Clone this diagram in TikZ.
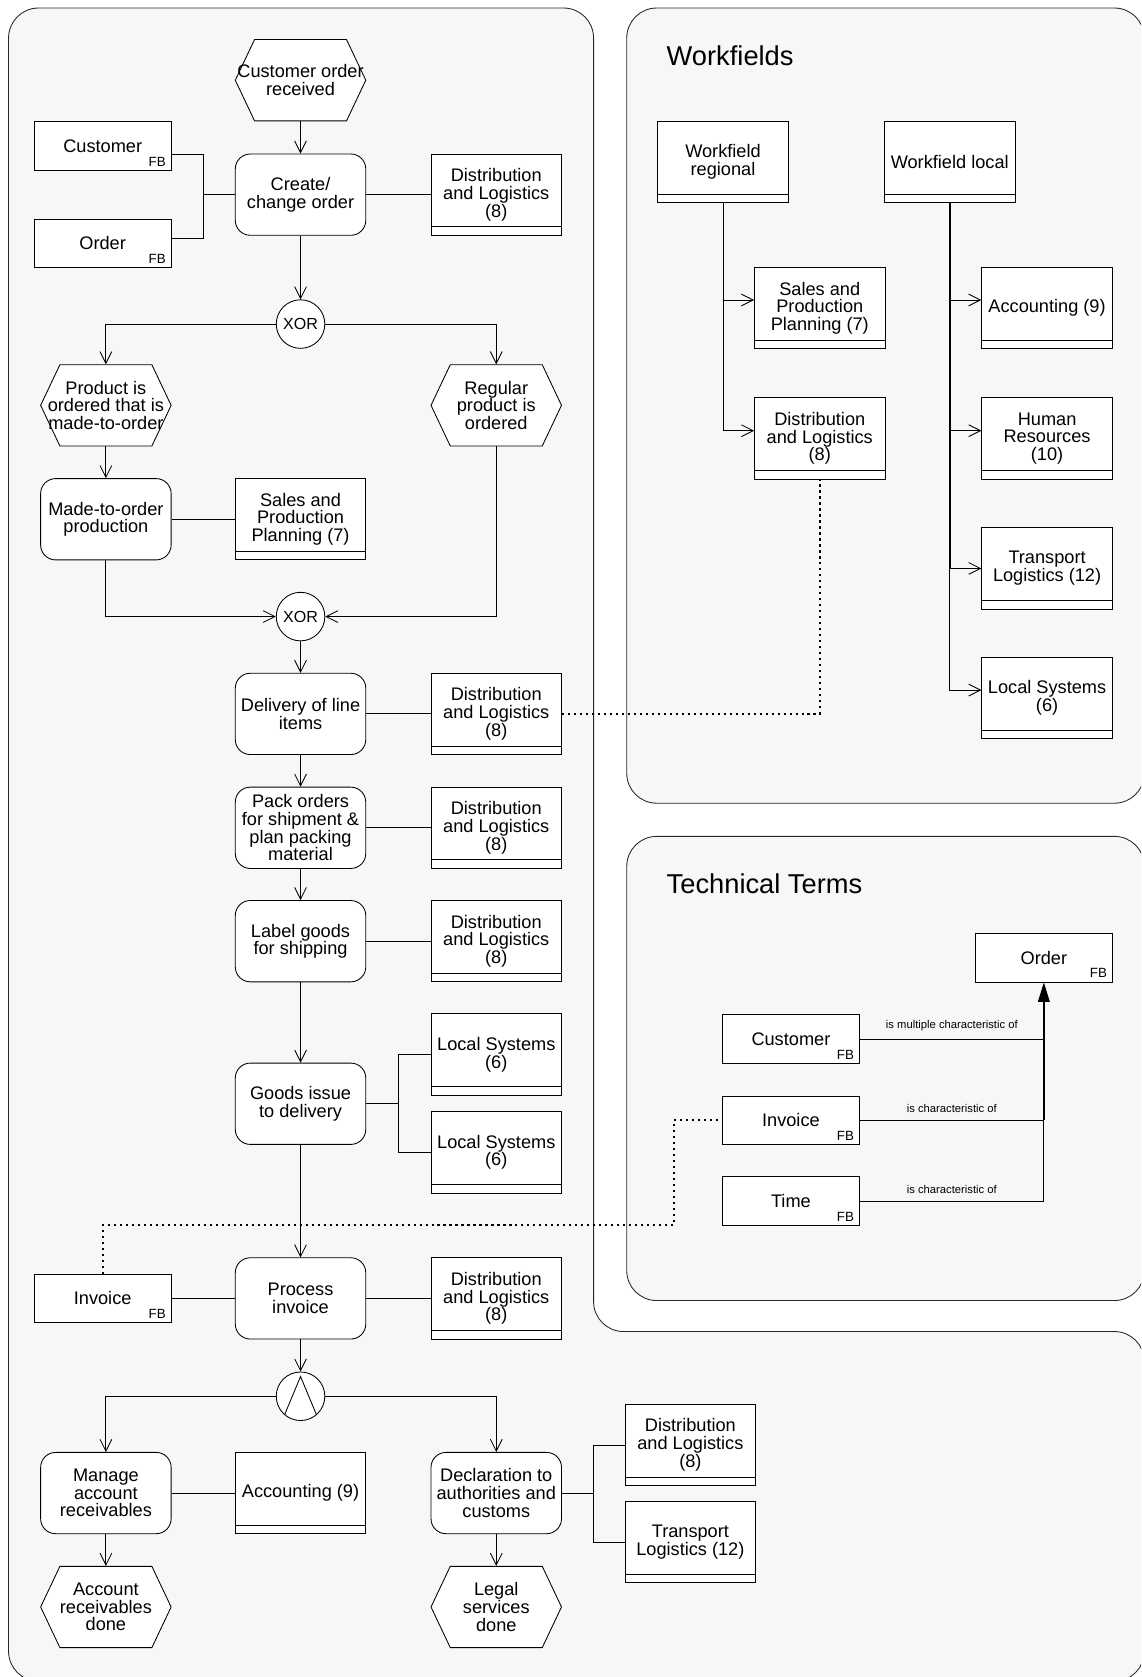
\documentclass[tikz,border=0pt]{standalone}
\usepackage{fontspec}
\setmainfont{Liberation Sans}
\usetikzlibrary{arrows.meta,calc}
\definecolor{panelgray}{RGB}{247,247,247}
\newcommand\mainfs{\fontsize{17pt}{16.5pt}\selectfont}
\newcommand\titlefs{\fontsize{25.5pt}{28pt}\selectfont}
\newcommand\gatefs{\fontsize{15pt}{16pt}\selectfont}
\newcommand\fbfs{\fontsize{12.5pt}{13pt}\selectfont}
\newcommand\relfs{\fontsize{10.5pt}{12pt}\selectfont}
\newcommand\EPCevent[3]{%
  \draw[fill=white] ($(#2)+(-61,0)$) -- ($(#2)+(-43,-38)$) -- ($(#2)+(43,-38)$) --
    ($(#2)+(61,0)$) -- ($(#2)+(43,38)$) -- ($(#2)+(-43,38)$) -- cycle;
  \node[evt] (#1) at (#2) {#3};}
\begin{document}
\begin{tikzpicture}[x=1pt,y=-1pt,line width=0.8pt,
  every node/.style={font=\mainfs,align=center},
  evt/.style={minimum width=122pt,minimum height=76pt,inner sep=0pt},
  func/.style={draw,fill=white,rounded corners=14pt,minimum width=122pt,minimum height=76pt,inner sep=1pt},
  org/.style={draw,fill=white,minimum width=122pt,minimum height=76pt,inner sep=1pt,
    path picture={\draw ([yshift=8pt]path picture bounding box.south west) -- ([yshift=8pt]path picture bounding box.south east);}},
  fbl/.style={anchor=south east,inner sep=0pt,xshift=-5pt,yshift=4pt,font=\fbfs},
  fb/.style={draw,fill=white,minimum width=128pt,minimum height=45.5pt,inner sep=1pt,label={[fbl]south east:FB}},
  gate/.style={circle,draw,fill=white,minimum size=45.4pt,inner sep=0pt,font=\gatefs},
  title/.style={font=\titlefs,inner sep=0pt,anchor=west},
  rel/.style={font=\relfs,inner sep=0pt,above=7pt},
  arr/.style={-{Straight Barb[length=11pt,width=11pt]}},
  dotline/.style={line width=2.1pt,dash pattern=on 2pt off 3.6pt},
  panel/.style={draw=black!85,fill=panelgray,line width=0.8pt,rounded corners=28pt}]
\useasboundingbox (0,0) rectangle (1067,1568);
\clip (0,0) rectangle (1067,1568);
\fill[white] (0,0) rectangle (1067,1568);
% panels
\draw[panel] (8,7.5) -- (555,7.5) -- (555,1245) -- (1070,1245) -- (1070,1572) -- (8,1572) -- cycle;
\draw[panel] (586,7.5) rectangle (1070,751);
\draw[panel] (586,782) rectangle (1070,1216);
% ---------- process ----------
\EPCevent{e1}{281,75}{Customer order\\received}
\node[fb] (cust) at (96,136.5) {Customer};
\node[fb] (ord) at (96,227.5) {Order};
\node[func] (f1) at (281,182) {Create/\\change order};
\node[org] (o1) at (464,182) {Distribution\\and Logistics\\(8)};
\node[gate] (x1) at (281,303) {XOR};
\EPCevent{e2}{99,379}{Product is\\ordered that is\\made-to-order}
\EPCevent{e3}{464,379}{Regular\\product is\\ordered}
\node[func] (f2) at (99,485.5) {Made-to-order\\production};
\node[org] (o2) at (281,485.5) {Sales and\\Production\\Planning (7)};
\node[gate] (x2) at (281,576.5) {XOR};
\node[func] (f3) at (281,667.5) {Delivery of line\\items};
\node[org] (o3) at (464,667.5) {Distribution\\and Logistics\\(8)};
\node[func] (f4) at (281,774) {Pack orders\\for shipment \&\\plan packing\\material};
\node[org] (o4) at (464,774) {Distribution\\and Logistics\\(8)};
\node[func] (f5) at (281,880) {Label goods\\for shipping};
\node[org] (o5) at (464,880) {Distribution\\and Logistics\\(8)};
\node[func] (f6) at (281,1032) {Goods issue\\to delivery};
\node[org] (o6) at (464,986) {Local Systems\\(6)};
\node[org] (o7) at (464,1077.5) {Local Systems\\(6)};
\node[fb] (inv) at (96,1214) {Invoice};
\node[func] (f7) at (281,1214) {Process\\invoice};
\node[org] (o8) at (464,1214) {Distribution\\and Logistics\\(8)};
\node[gate] (and) at (281,1305.5) {};
\draw ($(and)+(-15,17.5)$) -- ($(and)+(0,-18.5)$) -- ($(and)+(15,17.5)$);
\node[func] (f8) at (99,1396) {Manage\\account\\receivables};
\node[org] (o9) at (281,1396) {Accounting (9)};
\node[func] (f9) at (464,1396) {Declaration to\\authorities and\\customs};
\node[org] (o10) at (645.5,1351) {Distribution\\and Logistics\\(8)};
\node[org] (o11) at (645.5,1442) {Transport\\Logistics (12)};
\EPCevent{e4}{99,1502.5}{Account\\receivables\\done}
\EPCevent{e5}{464,1502.5}{Legal\\services\\done}
% connectors
\coordinate (j1) at (190,182);
\coordinate (j2) at (372.5,1032);
\coordinate (j3) at (554.5,1396);
\draw[arr] (e1.south) -- (f1.north);
\draw ($(cust.east)+(0,7.5)$) -| (j1) |- ($(ord.east)+(0,-4.6)$);
\draw (j1) -- (f1.west);
\draw (f1.east) -- (o1.west);
\draw[arr] (f1.south) -- (x1.north);
\draw[arr] (x1.west) -| (e2.north);
\draw[arr] (x1.east) -| (e3.north);
\draw[arr] (e2.south) -- (f2.north);
\draw (f2.east) -- (o2.west);
\draw[arr] (f2.south) |- (x2.west);
\draw[arr] (e3.south) |- (x2.east);
\draw[arr] (x2.south) -- (f3.north);
\draw (f3.east) -- (o3.west);
\draw[arr] (f3.south) -- (f4.north);
\draw (f4.east) -- (o4.west);
\draw[arr] (f4.south) -- (f5.north);
\draw (f5.east) -- (o5.west);
\draw[arr] (f5.south) -- (f6.north);
\draw (f6.east) -- (j2);
\draw (o6.west) -| (j2) |- (o7.west);
\draw[arr] (f6.south) -- (f7.north);
\draw (inv.east) -- (f7.west);
\draw (f7.east) -- (o8.west);
\draw[arr] (f7.south) -- (and.north);
\draw[arr] (and.west) -| (f8.north);
\draw[arr] (and.east) -| (f9.north);
\draw (f8.east) -- (o9.west);
\draw[arr] (f8.south) -- (e4.north);
\draw[arr] (f9.south) -- (e5.north);
\draw (f9.east) -- (j3);
\draw (o10.west) -| (j3) |- (o11.west);
% ---------- workfields ----------
\node[title] at (623,52) {Workfields};
\node[org] (wreg) at (676,151.5) {Workfield\\regional};
\node[org] (wloc) at (888,151.5) {Workfield local};
\node[org] (wsp) at (766.5,288) {Sales and\\Production\\Planning (7)};
\node[org] (wacc) at (979,288) {Accounting (9)};
\node[org] (wdl) at (766.5,410) {Distribution\\and Logistics\\(8)};
\node[org] (whr) at (979,410) {Human\\Resources\\(10)};
\node[org] (wtl) at (979,531.5) {Transport\\Logistics (12)};
\node[org] (wls) at (979,652.5) {Local Systems\\(6)};
\draw[arr] (wreg.south) |- ($(wsp.west)+(0,-7.5)$);
\draw[arr] (wreg.south) |- ($(wdl.west)+(0,-7.3)$);
\draw[arr] (wloc.south) |- ($(wacc.west)+(0,-7.5)$);
\draw[arr] (wloc.south) |- ($(whr.west)+(0,-7.3)$);
\draw[arr] (wloc.south) |- (wtl.west);
\draw[arr] (wloc.south) |- ($(wls.west)+(0,-7.3)$);
\draw[line width=1.5pt] (wloc.south) -- (wloc.south |- wtl.west);
% ---------- technical terms ----------
\node[title] at (623,826) {Technical Terms};
\node[fb] (tord) at (976,895.5) {Order};
\node[fb] (tcust) at (739.5,971.5) {Customer};
\node[fb] (tinv) at (739.5,1047.5) {Invoice};
\node[fb] (ttime) at (739.5,1123) {Time};
\draw[-{Triangle[length=18pt,width=11pt]}] (ttime.east) -| (tord.south)
  node[pos=0.25,rel] {is characteristic of};
\draw (tcust.east) -- (tcust.east -| tord.south) node[midway,rel] {is multiple characteristic of};
\draw (tinv.east) -- (tinv.east -| tord.south) node[midway,rel] {is characteristic of};
\draw[line width=1.5pt] (tinv.east -| tord.south) -- ($(tord.south)+(0,17)$);
% ---------- dotted links ----------
\coordinate (d1) at (630,1145.5);
\draw[dotline] (o3.east) -| (wdl.south);
\draw[dotline] (inv.north) |- (d1) |- (tinv.west);
\end{tikzpicture}
\end{document}
